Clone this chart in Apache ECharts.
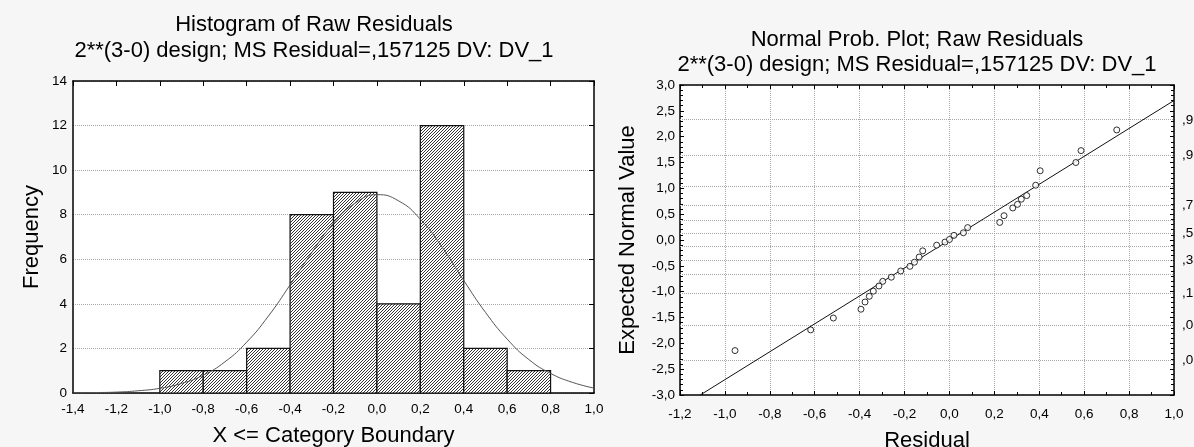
<!DOCTYPE html>
<html>
<head>
<meta charset="utf-8">
<script src="https://cdn.jsdelivr.net/npm/echarts@6/dist/echarts.min.js"></script>
<style>
html, body { margin: 0; padding: 0; background: #f6f6f6; }
#chart { width: 1194px; height: 447px; }
</style>
</head>
<body>
<div id="chart"></div>
<script>
// histogram: bin boundaries and counts
const binEdges = [-1.0, -0.8, -0.6, -0.4, -0.2, 0.0, 0.2, 0.4, 0.6, 0.8]
const binCounts = [1, 1, 2, 8, 9, 4, 12, 2, 1]

// fitted normal curve
const curveX = [-1.4, -1.3, -1.2, -1.1, -1.0, -0.9, -0.8, -0.7, -0.6, -0.5, -0.4, -0.3, -0.2,
  -0.1, 0.0, 0.1, 0.2, 0.3, 0.4, 0.5, 0.6, 0.7, 0.8, 0.9, 1.0]
const curveY = [0.01, 0.02, 0.04, 0.10, 0.21, 0.43, 0.80, 1.40, 2.28, 3.45, 4.85, 6.30, 7.62,
  8.52, 8.90, 8.62, 7.80, 6.55, 5.05, 3.62, 2.42, 1.50, 0.88, 0.48, 0.22]

// normal probability plot
const residuals = [-0.955, -0.618, -0.517, -0.394, -0.376, -0.357, -0.339, -0.314, -0.297,
  -0.259, -0.217, -0.176, -0.156, -0.135, -0.119, -0.057, -0.020, 0.000, 0.020, 0.062, 0.081,
  0.224, 0.243, 0.282, 0.303, 0.320, 0.344, 0.384, 0.404, 0.563, 0.586, 0.745]
const expectedNormal = [-2.14, -1.74, -1.51, -1.34, -1.20, -1.09, -0.99, -0.89, -0.80,
  -0.72, -0.60, -0.51, -0.43, -0.33, -0.21, -0.10, -0.04, 0.01, 0.09, 0.14, 0.24,
  0.34, 0.47, 0.62, 0.69, 0.79, 0.86, 1.06, 1.34, 1.50, 1.73, 2.13]
const fitLineX = [-1.11, 1.0]
const fitLineY = [-3.0, 2.70]

// probability scale on the right
const probGridZ = [-2.326, -1.645, -1.036, -0.674, -0.385, -0.126, 0.126, 0.385, 0.674, 1.036, 1.645, 2.326]
const probLabelZ = [-2.326, -1.645, -1.036, -0.385, 0.126, 0.674, 1.645, 2.326]
const probLabels = [',01', ',05', ',15', ',35', ',55', ',75', ',95', ',99']

// hatch pattern for the bars
const hatch = document.createElement('canvas')
hatch.width = 3
hatch.height = 3
const hc = hatch.getContext('2d')
hc.fillStyle = '#fff'
hc.fillRect(0, 0, 3, 3)
hc.fillStyle = '#333'
for (let i = 0; i < 3; i++) hc.fillRect(i, 2 - i, 1, 1)

const font = 'Liberation Sans, Arial, sans-serif'
const comma = v => v.toFixed(1).replace('.', ',')
const black = { onZero: false, lineStyle: { color: '#000', width: 1.5 } }
const dotted = { show: true, lineStyle: { color: '#a8a8a8', type: 'dotted', width: 1 } }
const tickLabel = { color: '#000', fontSize: 13.5, fontFamily: font }
const titleStyle = { fontSize: 22, fontWeight: 'normal', color: '#000', fontFamily: font }
const nameStyle = { fontSize: 22, color: '#000', fontFamily: font }
const inTick = { inside: true, length: 4, lineStyle: { color: '#000' } }
const inMinor = splitNumber => ({ show: true, splitNumber, length: 3, lineStyle: { color: '#000' } })

const chart = echarts.init(document.getElementById('chart'))

const option = {
  backgroundColor: '#f6f6f6',
  animation: false,
  title: [
    { text: 'Histogram of Raw Residuals', left: 309, top: 9, textAlign: 'center', textStyle: titleStyle },
    { text: '2**(3-0) design; MS Residual=,157125 DV: DV_1', left: 309, top: 35, textAlign: 'center', textStyle: titleStyle },
    { text: 'Normal Prob. Plot; Raw Residuals', left: 912, top: 24, textAlign: 'center', textStyle: titleStyle },
    { text: '2**(3-0) design; MS Residual=,157125 DV: DV_1', left: 912, top: 49, textAlign: 'center', textStyle: titleStyle }
  ],
  grid: [
    { left: 73, top: 81, right: 600, bottom: 54, outerBoundsMode: 'none', show: true, backgroundColor: '#fff', borderWidth: 0 },
    { left: 680, top: 85, right: 20, bottom: 52, outerBoundsMode: 'none', show: true, backgroundColor: '#fff', borderWidth: 0 }
  ],
  xAxis: [
    {
      gridIndex: 0, type: 'value', min: -1.4, max: 1.0, interval: 0.2,
      axisLine: black, axisTick: { show: false },
      axisLabel: { ...tickLabel, formatter: comma, margin: 9 },
      splitLine: { show: false },
      name: 'X <= Category Boundary', nameLocation: 'middle', nameGap: 32, nameTextStyle: nameStyle
    },
    {
      gridIndex: 0, type: 'value', position: 'top', min: -1.4, max: 1.0, interval: 0.2,
      axisLine: black, axisTick: { ...inTick, length: 5 },
      axisLabel: { show: false }, splitLine: { show: false }
    },
    {
      gridIndex: 1, type: 'value', min: -1.2, max: 1.0, interval: 0.2,
      axisLine: black, axisTick: inTick, minorTick: inMinor(2),
      axisLabel: { ...tickLabel, formatter: comma, margin: 12 },
      splitLine: dotted,
      name: 'Residual', nameLocation: 'middle', nameGap: 35, nameTextStyle: nameStyle
    },
    {
      gridIndex: 1, type: 'value', position: 'top', min: -1.2, max: 1.0, interval: 0.2,
      axisLine: black, axisTick: inTick, minorTick: inMinor(2),
      axisLabel: { show: false }, splitLine: { show: false }
    }
  ],
  yAxis: [
    {
      gridIndex: 0, type: 'value', min: 0, max: 14, interval: 2,
      axisLine: black, axisTick: { show: false },
      axisLabel: { ...tickLabel, margin: 6 },
      splitLine: dotted,
      name: 'Frequency', nameLocation: 'middle', nameGap: 30, nameTextStyle: nameStyle
    },
    {
      gridIndex: 0, type: 'value', position: 'right', min: 0, max: 14, interval: 2,
      axisLine: black, axisTick: { ...inTick, length: 5 },
      axisLabel: { show: false }, splitLine: { show: false }
    },
    {
      gridIndex: 1, type: 'value', min: -3, max: 3, interval: 0.5,
      axisLine: black, axisTick: inTick, minorTick: inMinor(5),
      axisLabel: { ...tickLabel, formatter: comma, margin: 5 },
      splitLine: { show: false },
      name: 'Expected Normal Value', nameLocation: 'middle', nameGap: 41, nameTextStyle: nameStyle
    },
    {
      gridIndex: 1, type: 'value', position: 'right', min: -3, max: 3, interval: 0.5,
      axisLine: black, axisTick: inTick, minorTick: inMinor(5),
      axisLabel: {
        ...tickLabel, margin: 8, customValues: probLabelZ,
        formatter: v => {
          const i = probLabelZ.findIndex(z => Math.abs(z - v) < 1e-6)
          return i >= 0 ? probLabels[i] : ''
        }
      },
      splitLine: { show: false }
    }
  ],
  series: [
    {
      type: 'custom',
      xAxisIndex: 0, yAxisIndex: 0,
      data: binCounts.map((c, i) => [binEdges[i], binEdges[i + 1], c]),
      renderItem: (params, api) => {
        const p0 = api.coord([api.value(0), api.value(2)])
        const p1 = api.coord([api.value(1), 0])
        return {
          type: 'rect',
          shape: { x: p0[0], y: p0[1], width: p1[0] - p0[0], height: p1[1] - p0[1] },
          style: { fill: { image: hatch, repeat: 'repeat' }, stroke: '#111', lineWidth: 1.2 }
        }
      }
    },
    {
      type: 'line',
      xAxisIndex: 0, yAxisIndex: 0,
      data: curveX.map((x, i) => [x, curveY[i]]),
      smooth: true, showSymbol: false,
      lineStyle: { color: '#555', width: 1 },
      z: 3
    },
    {
      type: 'line',
      xAxisIndex: 2, yAxisIndex: 2,
      data: fitLineX.map((x, i) => [x, fitLineY[i]]),
      showSymbol: false,
      lineStyle: { color: '#111', width: 1 },
      markLine: {
        silent: true, symbol: 'none', label: { show: false },
        lineStyle: { color: '#a8a8a8', type: 'dotted', width: 1 },
        data: probGridZ.map(z => ({ yAxis: z })),
        z: 1
      }
    },
    {
      type: 'scatter',
      xAxisIndex: 2, yAxisIndex: 2,
      data: residuals.map((x, i) => [x, expectedNormal[i]]),
      symbol: 'circle', symbolSize: 6,
      itemStyle: { color: '#fff', borderColor: '#000', borderWidth: 1 },
      z: 4
    }
  ]
}

chart.setOption(option)
</script>
</body>
</html>
